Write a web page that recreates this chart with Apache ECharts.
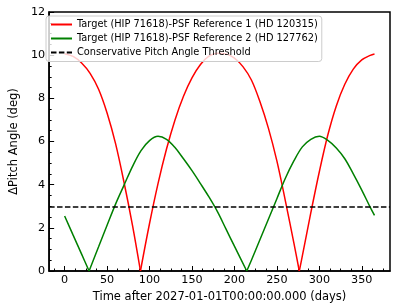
<!DOCTYPE html>
<html>
<head>
<meta charset="utf-8">
<script src="https://cdn.jsdelivr.net/npm/echarts@6/dist/echarts.min.js"></script>
<style>
html,body{margin:0;padding:0;background:#fff;}
#chart{width:397px;height:308px;}
</style>
</head>
<body>
<div id="chart"></div>
<script>
const redName = 'Target (HIP 71618)-PSF Reference 1 (HD 120315)';
const greenName = 'Target (HIP 71618)-PSF Reference 2 (HD 127762)';
const threshName = 'Conservative Pitch Angle Threshold';

const redDays = [0,10,20,30,40,50,60,70,80,89.3,100,110,120,130,140,150,160,170,180,190,200,210,220,230,240,250,260,270,276.4,280,290,300,310,320,330,340,350,360,365];
const redValues = [10.07,9.94,9.64,9.16,8.42,7.32,5.9,4.1,2.1,0,2.2,4.05,5.65,7.0,8.1,8.95,9.57,9.95,10.09,10.06,9.86,9.47,8.85,7.85,6.62,5.1,3.25,1.3,0,0.7,2.7,4.6,6.3,7.65,8.65,9.35,9.78,9.99,10.05];

const greenDays = [0,10,20,28.8,40,50,60,70,80,90,100,110,120,130,140,150,160,170,180,190,200,214.5,220,230,240,250,260,270,280,290,300,310,320,330,340,350,360,365];
const greenValues = [2.55,1.66,0.78,0,1.12,2.12,3.1,3.98,4.85,5.58,6.04,6.24,6.1,5.72,5.2,4.65,4.05,3.43,2.75,1.95,1.15,0,0.5,1.45,2.4,3.35,4.3,5.1,5.75,6.1,6.24,6.05,5.7,5.2,4.5,3.75,2.95,2.58];

const threshold = 3;

const xMin = -18.25, xMax = 383.25;
const xMajorTicks = [0,50,100,150,200,250,300,350];
const xMinorStep = 12.5;
const yMin = 0, yMax = 12, yStep = 2;

const xMinorTicks = [];
for (let v = -12.5; v <= xMax; v += xMinorStep) {
  if (v >= xMin && xMajorTicks.indexOf(v) < 0) xMinorTicks.push(v);
}

// split a curve at its zero points so each arch is smoothed separately
function segments(xs, ys) {
  const segs = [];
  let cur = [];
  xs.forEach((x, i) => {
    cur.push([x, ys[i]]);
    if (ys[i] === 0 && i > 0 && i < xs.length - 1) {
      segs.push(cur);
      cur = [[x, ys[i]]];
    }
  });
  segs.push(cur);
  return segs;
}

const font = 'DejaVu Sans';
const series = [];
function addCurve(name, color, xs, ys) {
  segments(xs, ys).forEach(seg => {
    series.push({
      name: name, type: 'line', data: seg, smooth: 0.35,
      symbol: 'none', showSymbol: false, color: color,
      lineStyle: {color: color, width: 1.5}, z: 3
    });
  });
}
addCurve(redName, '#ff0000', redDays, redValues);
addCurve(greenName, '#008000', greenDays, greenValues);
series.push({
  name: threshName, type: 'line', data: [],
  symbol: 'none', showSymbol: false, color: '#000',
  lineStyle: {color: '#000', width: 1.5, type: [5.5, 2.4]},
  markLine: {
    silent: true, symbol: ['none', 'none'], label: {show: false},
    lineStyle: {color: '#000', width: 1.5, type: [5.5, 2.4]},
    data: [{yAxis: threshold}]
  }, z: 3
});

const chart = echarts.init(document.getElementById('chart'), null, {renderer: 'canvas'});
chart.setOption({
  animation: false,
  backgroundColor: '#ffffff',
  textStyle: {fontFamily: font},
  grid: {left: 42, right: 7, top: 12, bottom: 37, show: true, borderColor: '#000', borderWidth: 1.5, containLabel: false},
  legend: {
    orient: 'vertical', left: 46, top: 16,
    itemWidth: 21, itemHeight: 10, itemGap: 4,
    padding: [3.5, 4, 4, 4],
    backgroundColor: 'rgba(255,255,255,0.8)',
    borderColor: '#cccccc', borderWidth: 1, borderRadius: 3,
    itemStyle: {opacity: 0},
    textStyle: {fontSize: 9.8, color: '#000', fontFamily: font},
    data: [redName, greenName, threshName]
  },
  xAxis: [{
    type: 'value', min: xMin, max: xMax,
    name: 'Time after 2027-01-01T00:00:00.000 (days)',
    nameLocation: 'middle', nameGap: 18,
    nameTextStyle: {fontSize: 11.5, color: '#000', fontFamily: font},
    axisLine: {show: true, onZero: false, lineStyle: {color: '#000', width: 1.5}},
    axisTick: {show: true, inside: true, length: 5, customValues: xMajorTicks, lineStyle: {color: '#000', width: 1}},
    axisLabel: {show: true, customValues: xMajorTicks, fontSize: 11.2, color: '#000', margin: 4, fontFamily: font},
    splitLine: {show: false}
  }, {
    type: 'value', min: xMin, max: xMax, position: 'bottom',
    axisLine: {show: false},
    axisTick: {show: true, inside: true, length: 2.5, customValues: xMinorTicks, lineStyle: {color: '#000', width: 1}},
    axisLabel: {show: false, customValues: xMinorTicks},
    splitLine: {show: false}
  }],
  yAxis: {
    type: 'value', min: yMin, max: yMax, interval: yStep,
    name: 'ΔPitch Angle (deg)',
    nameLocation: 'middle', nameGap: 24,
    nameTextStyle: {fontSize: 11.5, color: '#000', fontFamily: font},
    axisLine: {show: true, onZero: false, lineStyle: {color: '#000', width: 1.5}},
    axisTick: {show: true, inside: true, length: 5, lineStyle: {color: '#000', width: 1}},
    minorTick: {show: true, splitNumber: 4, length: 2.5, lineStyle: {color: '#000', width: 1}},
    axisLabel: {fontSize: 11.2, color: '#000', margin: 4, fontFamily: font},
    splitLine: {show: false}
  },
  series: series
});
</script>
</body>
</html>
